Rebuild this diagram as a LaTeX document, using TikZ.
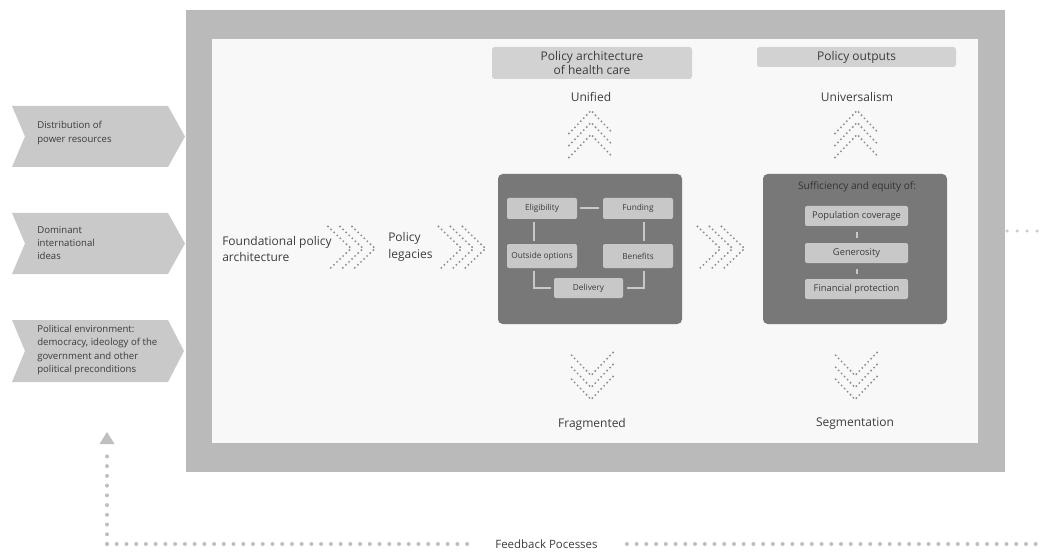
\documentclass[tikz,border=0pt]{standalone}
\usepackage{fontspec}
\setmainfont{Open Sans}
\usetikzlibrary{calc}
\definecolor{framegray}{HTML}{BABABA}
\definecolor{panel}{HTML}{F8F8F8}
\definecolor{taggray}{HTML}{C9C9C9}
\definecolor{headgray}{HTML}{D2D2D2}
\definecolor{darkbox}{HTML}{787878}
\definecolor{cellgray}{HTML}{C8C8C8}
\definecolor{ink}{HTML}{3C3C3C}
\definecolor{dotgray}{HTML}{8E8E8E}
\definecolor{fbgray}{HTML}{BFBFBF}
\tikzset{
  lbl/.style={text=ink, inner sep=0pt, font=\fontsize{9}{12}\selectfont},
  tagtext/.style={text=ink, inner sep=0pt, anchor=west, align=left,
                  font=\fontsize{7.2}{9.8}\selectfont},
  headbox/.style={fill=headgray, rounded corners=2pt, text=ink, align=center,
                  inner sep=0pt, font=\fontsize{9}{11.2}\selectfont},
  darkpanel/.style={fill=darkbox, rounded corners=3.5pt, inner sep=0pt},
  cell/.style={fill=cellgray, rounded corners=1.5pt, text=ink, inner sep=0pt,
               font=\fontsize{6.2}{7}\selectfont},
  outcell/.style={cell, minimum width=77.25pt, minimum height=15pt,
                  font=\fontsize{7}{8}\selectfont},
  link/.style={draw=cellgray, line width=1.5pt},
  dots/.style={draw=dotgray, line width=1.6pt, line cap=round,
               dash pattern=on 0pt off 3.2pt},
  fbdots/.style={draw=fbgray, line width=3pt, line cap=round,
                 dash pattern=on 0pt off 7.3pt},
  dotchev/.pic={
    \foreach \k in {0,1,2}{
      \draw[dots] (-23.5+12*\k,-22) -- (-0.5+12*\k,0) -- (-23.5+12*\k,22);
    }
  }
}
\begin{document}
\begin{tikzpicture}[x=0.75pt,y=-0.75pt]
\useasboundingbox[fill=white] (0,0) rectangle (1041,552);

% outer frame and inner panel
\fill[framegray] (186,10) rectangle (1005,472);
\fill[panel] (212,39) rectangle (978,443);

% driving factors on the left
\fill[taggray] (12,106) -- (168,106) -- (185,136.5) -- (168,167) -- (12,167) -- (25,136.5) -- cycle;
\fill[taggray] (12,213) -- (168,213) -- (185,243.5) -- (168,274) -- (12,274) -- (25,243.5) -- cycle;
\fill[taggray] (12,320) -- (168,320) -- (184,351) -- (168,382) -- (12,382) -- (25,351) -- cycle;
\node[tagtext] (power) at (37,133) {Distribution of\\power resources};
\node[tagtext] (ideas) at (37,243) {Dominant\\international\\ideas};
\node[tagtext] (politics) at (37,350) {Political environment:\\democracy, ideology of the\\government and other\\political preconditions};

% column headers
\node[headbox, minimum width=150pt, minimum height=24pt] (hcare) at (592,63)
  {Policy architecture\\of health care};
\node[headbox, minimum width=149.25pt, minimum height=15pt] (hout) at (856.5,57)
  {Policy outputs};

\node[lbl] (unified) at (591,97) {Unified};
\node[lbl] (univ) at (857,97) {Universalism};
\node[lbl] (frag) at (592,424) {Fragmented};
\node[lbl] (segm) at (855,424) {Segmentation};

% path from foundations to architecture
\node[lbl, anchor=west, align=left, font=\fontsize{9}{12.2}\selectfont] (found) at (222,249)
  {Foundational policy\\architecture};
\node[lbl, anchor=west, align=left, font=\fontsize{9}{12.8}\selectfont] (legacy) at (388,247)
  {Policy\\legacies};

\pic at (351.5,248.5) {dotchev};
\pic at (462,248.5) {dotchev};
\pic at (721,248.5) {dotchev};
\pic[rotate=90] at (591,134) {dotchev};
\pic[rotate=90] at (857,134) {dotchev};
\pic[rotate=-90] at (591,376) {dotchev};
\pic[rotate=-90] at (855,376) {dotchev};

% policy architecture box
\node[darkpanel, minimum width=138pt, minimum height=112.5pt] (arch) at (590,249) {};
\node[cell, minimum width=52.5pt, minimum height=15.75pt] (elig) at (542,208.5) {Eligibility};
\node[cell, minimum width=52.5pt, minimum height=15.75pt] (fund) at (638,208.5) {Funding};
\node[cell, minimum width=52.5pt, minimum height=18pt] (outopt) at (542,256) {Outside options};
\node[cell, minimum width=52.5pt, minimum height=18pt] (bene) at (638,256) {Benefits};
\node[cell, minimum width=51.75pt, minimum height=15pt] (deliv) at (588.5,288) {Delivery};

\draw[link] ($(elig.east)+(3,0)$) -- ($(fund.west)+(-4,0)$);
\draw[link] ($(elig.south)+(-8,3)$) -- ($(outopt.north)+(-8,-3)$);
\draw[link] ($(fund.south)+(6,3)$) -- ($(bene.north)+(6,-3)$);
\draw[link] ($(outopt.south)+(-8,3)$) |- ($(deliv.west)+(-3,0)$);
\draw[link] ($(bene.south)+(6,3)$) |- ($(deliv.east)+(4,0)$);

% policy outputs box
\node[darkpanel, minimum width=138pt, minimum height=112.5pt] (outbox) at (855,249) {};
\node[text=ink!85!black, inner sep=0pt, font=\fontsize{7.6}{9}\selectfont] (suff) at (857,187)
  {Sufficiency and equity of:};
\node[outcell] (pop) at (856.5,216) {Population coverage};
\node[outcell] (gen) at (856.5,253) {Generosity};
\node[outcell] (fin) at (856.5,289) {Financial protection};
\draw[link] ($(pop.south)+(0,6)$) -- ($(gen.north)+(0,-5)$);
\draw[link] ($(gen.south)+(0,6)$) -- ($(fin.north)+(0,-5)$);

% dots leaving the frame on the right
\coordinate (outA) at (1007,231);
\coordinate (outB) at (1040,231);
\draw[fbdots, draw=fbgray!80!white, line width=2.6pt, dash pattern=on 0pt off 7.5pt] (outA) -- (outB);

% feedback loop
\coordinate (fbcorner) at (107,544);
\coordinate (fbtip) at (107,432);
\coordinate (fbbase) at (107,444);
\coordinate (fbend) at (1041,544);
\node[lbl, font=\fontsize{8.6}{10}\selectfont] (fbtext) at (546.5,544) {Feedback Pocesses};
\draw[fbdots] (fbcorner) -- ($(fbbase)+(0,3)$);
\fill[fbgray] ($(fbbase)+(-7.5,0)$) -- (fbtip) -- ($(fbbase)+(7.5,0)$) -- cycle;
\draw[fbdots] (fbcorner) -- ($(fbtext.west)+(-27,0)$);
\draw[fbdots] ($(fbtext.east)+(29,0)$) -- (fbend);
\end{tikzpicture}
\end{document}
